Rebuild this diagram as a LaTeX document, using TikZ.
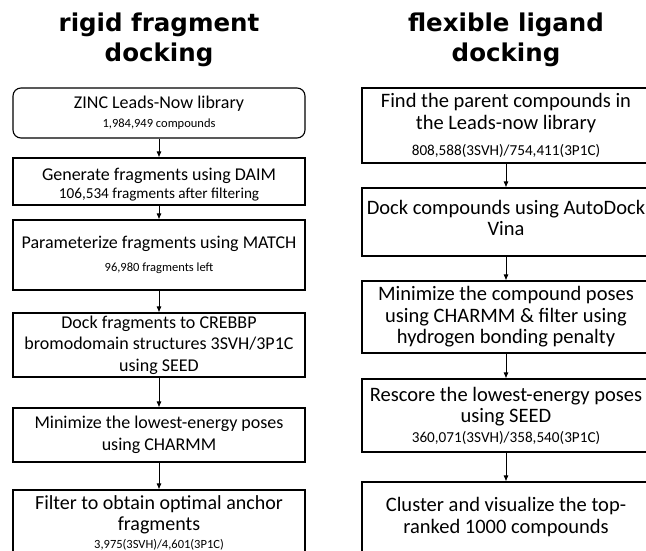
\documentclass[tikz,border=0pt]{standalone}
\usepackage{fontspec}
\setmainfont{Carlito}
\newfontfamily\titelschrift{DejaVu Sans}
\usetikzlibrary{arrows.meta}
\newcommand\schrittf{\fontsize{18}{21.5}\selectfont}
\newcommand\schrittg{\fontsize{20.5}{21.5}\selectfont}
\newcommand\zahlf{\fontsize{12.5}{15}\selectfont}
\newcommand\zahlg{\fontsize{15.2}{18}\selectfont}
\newcommand\titelf{\titelschrift\bfseries\fontsize{24.5}{30}\selectfont}
% Kasten eines Schritts: Name, Mitte x, Breite, Oberkante, Unterkante, Text
\newcommand\schritt[7][]{\node[schritt,text width=#4pt,minimum width=#4,minimum height=#6-#5,#1]
  (#2) at (#3,{(#5+#6)/2}) {#7};}

\begin{document}
\begin{tikzpicture}[x=1pt,y=-1pt]
\useasboundingbox (0,0) rectangle (646,551);
\clip (0,0) rectangle (646,551);
\tikzset{schritt/.style={draw=black,line width=1.1pt,inner sep=0,align=flush center,
    font=\schrittf},
  titel/.style={font=\titelf,align=flush center,inner sep=0},
  pfeil/.style={black,line width=0.9pt,-{Latex[length=6pt,width=5pt]}}}

% ---- Linke Spalte: rigid fragment docking ------------------------------------
\node[titel] (tlinks) at (159,40) {rigid fragment\\docking};
\schritt[rounded corners=8pt]{l1}{159}{292}{88}{138}{ZINC Leads-Now library\\[-2pt]{\zahlf 1,984,949 compounds}}
\schritt{l2}{159}{292}{158}{205}{\rule{0pt}{19pt}Generate fragments using DAIM\\[-3.5pt]{\zahlg 106,534 fragments after filtering}}
\schritt{l3}{159}{292}{220}{290}{Parameterize fragments using MATCH\\[2pt]{\zahlf 96,980 fragments left}}
\schritt{l4}{159}{292}{313}{377}{Dock fragments to CREBBP\\bromodomain structures 3SVH/3P1C\\using SEED}
\schritt{l5}{159}{292}{408}{462}{Minimize the lowest-energy poses\\using CHARMM}
\schritt[font={\fontsize{20}{21}\selectfont}]{l6}{159}{292}{490}{556}{Filter to obtain optimal anchor\\fragments\\[-3pt]{\zahlf 3,975(3SVH)/4,601(3P1C)}}
\foreach \a/\b in {l1/l2,l2/l3,l3/l4,l4/l5,l5/l6} {\draw[pfeil] (\a) -- (\b);}

% ---- Rechte Spalte: flexible ligand docking ----------------------------------
\node[titel] (trechts) at (506,40) {flexible ligand\\docking};
\schritt[font=\schrittg]{r1}{506}{288}{88}{163}{Find the parent compounds in\\the Leads-now library\\[5pt]{\zahlg 808,588(3SVH)/754,411(3P1C)}}
\schritt[font=\schrittg]{r2}{506}{288}{188}{256}{Dock compounds using AutoDock\\Vina\rule[-8pt]{0pt}{8pt}}
\schritt[font=\schrittg]{r3}{506}{288}{281}{353}{Minimize the compound poses\\using CHARMM \& filter using\\hydrogen bonding penalty}
\schritt[font=\schrittg]{r4}{506}{288}{379}{452}{Rescore the lowest-energy poses\\using SEED\\[-2pt]{\zahlg 360,071(3SVH)/358,540(3P1C)}}
\schritt[font=\schrittg]{r5}{506}{288}{482}{552}{Cluster and visualize the top-\\ranked 1000 compounds}
\foreach \a/\b in {r1/r2,r2/r3,r3/r4,r4/r5} {\draw[pfeil] (\a) -- (\b);}
\end{tikzpicture}
\end{document}
